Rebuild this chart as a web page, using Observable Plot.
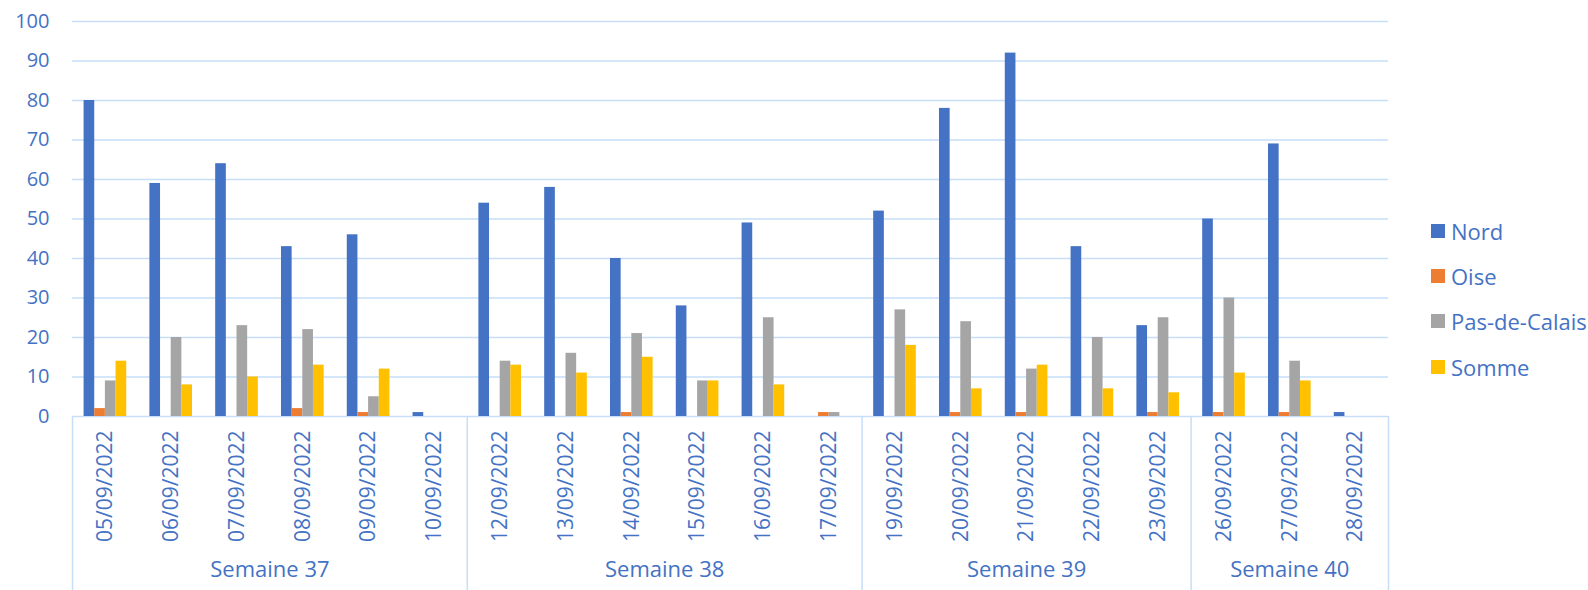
<!DOCTYPE html>
<html><head><meta charset="utf-8">
<script src="https://cdn.jsdelivr.net/npm/d3@7"></script>
<script src="https://cdn.jsdelivr.net/npm/@observablehq/plot@0.6"></script>
<style>
body{margin:0;background:#fff;font-family:"Open Sans",sans-serif;}
#wrap{position:relative;width:1588px;height:590px;}
#legend{position:absolute;left:1431px;top:208px;}
.item{display:flex;align-items:center;height:45.3px;font-size:22px;color:#4472C4;white-space:nowrap;}
.sw{width:14px;height:14px;margin-right:6px;flex:none;}
</style></head>
<body><div id="wrap"></div>
<script>
const dates = ["05/09/2022","06/09/2022","07/09/2022","08/09/2022","09/09/2022","10/09/2022",
  "12/09/2022","13/09/2022","14/09/2022","15/09/2022","16/09/2022","17/09/2022",
  "19/09/2022","20/09/2022","21/09/2022","22/09/2022","23/09/2022",
  "26/09/2022","27/09/2022","28/09/2022"];
const weekLabels = ["Semaine 37","Semaine 38","Semaine 39","Semaine 40"];
const weekSizes = [6, 6, 5, 3];
const seriesNames = ["Nord","Oise","Pas-de-Calais","Somme"];
const seriesColors = ["#4472C4","#ED7D31","#A5A5A5","#FFC000"];
const nord        = [80,59,64,43,46,1, 54,58,40,28,49,0, 52,78,92,43,23, 50,69,1];
const oise        = [2,0,0,2,1,0, 0,0,1,0,0,1, 0,1,1,0,1, 1,1,0];
const pasDeCalais = [9,20,23,22,5,0, 14,16,21,9,25,1, 27,24,12,20,25, 30,14,0];
const somme       = [14,8,10,13,12,0, 13,11,15,9,8,0, 18,7,13,7,6, 11,9,0];
const yTicks = [0,10,20,30,40,50,60,70,80,90,100];

const seriesValues = [nord, oise, pasDeCalais, somme];
const blue = "#4472C4";
const gridColor = "#C6DEF8";
const barW = 0.162, groupPad = (1 - 4 * barW) / 2;

const rows = dates.flatMap((d, i) => seriesNames.map((s, k) => ({
  i, k, date: d, series: s, value: seriesValues[k][i]
})));

let acc = 0;
const weeks = weekLabels.map((label, j) => {
  const start = acc; acc += weekSizes[j];
  return {label, start, end: acc, mid: (start + acc) / 2};
});
const boundaries = [0, ...weeks.map(w => w.end)];

const plot = Plot.plot({
  width: 1588, height: 590,
  marginLeft: 72, marginRight: 200, marginTop: 21, marginBottom: 174,
  style: {fontFamily: "'Open Sans', sans-serif", fontSize: "20px", color: blue, background: "white", overflow: "visible"},
  x: {type: "linear", domain: [0, dates.length]},
  y: {domain: [0, 100]},
  color: {domain: seriesNames, range: seriesColors},
  marks: [
    Plot.gridY(yTicks, {stroke: gridColor, strokeOpacity: 1, strokeWidth: 1.5}),
    Plot.axisY({ticks: yTicks, tickSize: 0, tickPadding: 23, label: null, fontSize: 20, fill: blue}),
    Plot.rectY(rows, {
      x1: d => d.i + groupPad + d.k * barW,
      x2: d => d.i + groupPad + (d.k + 1) * barW,
      y1: 0, y2: "value", fill: "series"
    }),
    Plot.axisX({ticks: boundaries, tickSize: 174, tickFormat: () => "", stroke: gridColor, strokeWidth: 1.5, strokeOpacity: 1, label: null}),
    Plot.axisX({ticks: dates.map((d, i) => i + 0.5), tickFormat: v => dates[Math.floor(v)],
      tickSize: 0, tickPadding: 14, tickRotate: -90, label: null, fontSize: 21, fill: blue}),
    Plot.text(weeks, {x: "mid", text: "label", frameAnchor: "bottom", dy: 160, fontSize: 22, fill: blue})
  ]
});
const wrap = document.getElementById("wrap");
wrap.appendChild(plot);

const legend = d3.select(wrap).append("div").attr("id", "legend");
seriesNames.forEach((s, k) => {
  const it = legend.append("div").attr("class", "item");
  it.append("span").attr("class", "sw").style("background", seriesColors[k]);
  it.append("span").text(s);
});
</script>
</body></html>
